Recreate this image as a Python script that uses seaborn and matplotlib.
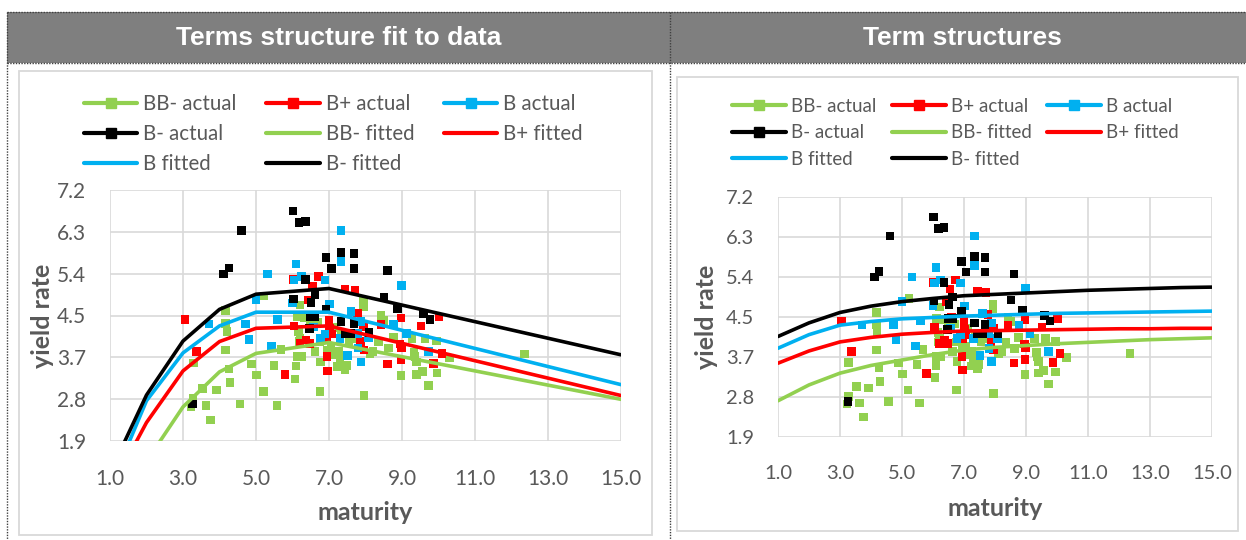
import numpy as np
import pandas as pd
import matplotlib
matplotlib.use("Agg")
import matplotlib.pyplot as plt
from matplotlib.patches import Rectangle
from matplotlib.lines import Line2D
import seaborn as sns

# ---------------- data ----------------
series_names = ["BB- actual", "B+ actual", "B actual", "B- actual"]
fit_names = ["BB- fitted", "B+ fitted", "B fitted", "B- fitted"]

bb_x = [3.22, 3.27, 3.28, 3.54, 3.63, 3.76, 3.92, 4.56, 4.17, 4.17, 4.20, 4.17, 4.26, 4.29,
        4.88, 5.02, 5.49, 5.20, 5.57, 5.22, 5.68, 6.07, 6.10, 6.12, 6.25, 6.21, 6.12, 6.16,
        6.18, 6.21, 6.62, 6.75, 6.77, 6.75, 7.26, 7.30, 7.44, 7.48, 7.23, 7.35, 7.55, 7.62,
        7.94, 7.94, 7.96, 8.42, 8.50, 8.35, 8.12, 8.21, 8.63, 8.76, 8.97, 9.27, 9.33, 9.40,
        9.36, 9.40, 9.56, 9.63, 9.72, 9.95, 9.96, 10.30, 12.35, 6.50, 6.70, 6.90, 7.05,
        7.12, 6.45, 6.95, 7.15, 6.32]
bb_y = [2.63, 2.80, 3.55, 3.01, 2.65, 2.34, 2.98, 2.68, 4.65, 4.38, 4.21, 3.82, 3.42, 3.13,
        3.53, 3.29, 3.50, 2.94, 2.65, 4.96, 3.83, 3.21, 3.48, 3.68, 3.68, 4.77, 4.52, 4.21,
        4.00, 4.07, 3.79, 2.94, 3.57, 4.00, 3.79, 3.61, 3.41, 3.50, 3.47, 4.17, 4.00, 4.07,
        4.84, 4.74, 2.86, 4.55, 4.45, 4.00, 3.74, 3.79, 3.86, 4.10, 3.28, 4.07, 3.77, 3.57,
        3.68, 3.31, 3.37, 4.07, 3.07, 4.01, 3.34, 3.65, 3.74, 4.35, 4.40, 4.10, 3.90,
        4.30, 3.95, 3.82, 3.72, 4.50]

bp_x = [3.05, 3.37, 5.79, 6.02, 6.72, 6.55, 6.42, 7.44, 7.71, 6.04, 6.37, 6.21, 6.48, 7.00,
        7.02, 6.94, 6.96, 7.78, 7.95, 7.87, 7.96, 8.42, 8.97, 9.52, 10.01, 8.95, 8.99, 8.61,
        8.97, 9.87, 10.09, 7.07, 6.95, 6.60]
bp_y = [4.46, 3.79, 3.30, 5.31, 5.37, 5.17, 4.88, 5.11, 5.09, 4.33, 4.03, 3.96, 3.96, 4.45,
        4.27, 3.68, 3.38, 4.60, 4.31, 4.00, 3.82, 4.36, 4.50, 4.33, 4.52, 3.95, 3.88, 3.53,
        3.61, 3.54, 3.75, 4.16, 4.07, 4.55]

b_x = [6.09, 5.32, 6.25, 6.04, 5.00, 6.00, 3.71, 4.72, 5.59, 4.81, 5.43, 7.33, 7.33, 6.89,
       8.99, 7.01, 7.60, 7.88, 8.77, 9.13, 6.77, 7.30, 7.80, 8.08, 7.80, 7.51, 7.88, 9.72,
       6.57, 6.89]
b_y = [5.64, 5.43, 5.37, 5.30, 4.89, 4.81, 4.37, 4.37, 4.46, 4.04, 3.91, 6.34, 5.69, 5.30,
       5.18, 4.79, 4.63, 4.42, 4.36, 4.17, 4.07, 4.07, 4.17, 4.08, 3.86, 3.70, 3.57, 3.79,
       4.31, 4.16]

bm_x = [6.01, 6.18, 6.36, 4.61, 4.26, 4.11, 6.36, 6.03, 6.51, 6.62, 6.48, 6.46, 3.26, 6.92,
        7.33, 7.68, 7.07, 7.68, 8.61, 8.51, 8.88, 9.59, 9.77, 6.92, 7.33, 7.68, 7.44, 7.59,
        8.10, 6.62]
bm_y = [6.76, 6.51, 6.53, 6.34, 5.55, 5.43, 5.31, 4.90, 4.82, 4.99, 4.52, 4.28, 2.68, 5.77,
        5.88, 5.86, 5.54, 5.54, 5.50, 4.93, 4.69, 4.58, 4.46, 4.68, 4.42, 4.38, 4.17, 4.17,
        4.19, 4.52]

# left panel: fitted term structure at tenor points
fitL_x = [1, 2, 3, 4, 5, 7, 15]
fitL_bb = [0.30, 1.47, 2.62, 3.36, 3.75, 3.98, 2.78]
fitL_bp = [0.85, 2.29, 3.38, 4.00, 4.28, 4.33, 2.86]
fitL_b = [0.92, 2.75, 3.76, 4.33, 4.62, 4.62, 3.09]
fitL_bm = [1.23, 2.87, 4.01, 4.68, 5.00, 5.12, 3.72]

# right panel: smooth term structures
fitR_x = [1, 2, 3, 4, 5, 6, 7, 8, 9, 10, 11, 12, 13, 14, 15]
fitR_bb = [2.70, 3.05, 3.31, 3.48, 3.60, 3.72, 3.82, 3.88, 3.92, 3.96, 3.99, 4.02, 4.05, 4.07, 4.09]
fitR_bp = [3.53, 3.80, 4.00, 4.10, 4.17, 4.21, 4.24, 4.25, 4.26, 4.27, 4.28, 4.29, 4.29, 4.30, 4.30]
fitR_b = [3.86, 4.16, 4.37, 4.45, 4.51, 4.54, 4.57, 4.59, 4.61, 4.63, 4.64, 4.65, 4.66, 4.67, 4.68]
fitR_bm = [4.12, 4.42, 4.65, 4.79, 4.89, 4.96, 5.02, 5.05, 5.08, 5.11, 5.14, 5.16, 5.18, 5.20, 5.21]

x_ticks = [1.0, 3.0, 5.0, 7.0, 9.0, 11.0, 13.0, 15.0]
x_ticklabels = ["1.0", "3.0", "5.0", "7.0", "9.0", "11.0", "13.0", "15.0"]
y_ticklabels = ["1.9", "2.8", "3.7", "4.5", "5.4", "6.3", "7.2"]
y_min, y_max = 1.9, 7.2

titles = ["Terms structure fit to data", "Term structures"]
colors = ["#92D050", "#FF0000", "#00B0F0", "#000000"]

# ---------------- tables ----------------
act = pd.concat([
    pd.DataFrame({"maturity": bb_x, "yield": bb_y, "series": series_names[0]}),
    pd.DataFrame({"maturity": bp_x, "yield": bp_y, "series": series_names[1]}),
    pd.DataFrame({"maturity": b_x, "yield": b_y, "series": series_names[2]}),
    pd.DataFrame({"maturity": bm_x, "yield": bm_y, "series": series_names[3]}),
], ignore_index=True)

def fit_table(xs, ys_list):
    return pd.concat([pd.DataFrame({"maturity": xs, "yield": ys, "series": n})
                      for ys, n in zip(ys_list, fit_names)], ignore_index=True)

fitL = fit_table(fitL_x, [fitL_bb, fitL_bp, fitL_b, fitL_bm])
fitR = fit_table(fitR_x, [fitR_bb, fitR_bp, fitR_b, fitR_bm])

# ---------------- figure ----------------
sns.set_theme(style="white")
plt.rcParams["font.family"] = ["Lato", "DejaVu Sans"]

W, H = 1246, 540
fig = plt.figure(figsize=(W / 100, H / 100), dpi=100)
fig.patch.set_facecolor("white")

def rect_px(x0, y0, x1, y1, **kw):
    fig.add_artist(Rectangle((x0 / W, 1 - y1 / H), (x1 - x0) / W, (y1 - y0) / H,
                             transform=fig.transFigure, **kw))

def line_px(xs, ys, **kw):
    fig.add_artist(Line2D([x / W for x in xs], [1 - y / H for y in ys],
                          transform=fig.transFigure, **kw))

# header bar
rect_px(7, 12, W, 63, facecolor="#7F7F7F", edgecolor="none", zorder=0)
dot = dict(color="#404040", lw=1, ls=(0, (1, 1)), zorder=1)
line_px([7, W], [12, 12], **dot)
line_px([7, W], [63, 63], **dot)
line_px([7, 7], [12, H], **dot)
line_px([670, 670], [12, H], **dot)
fig.text(339 / W, 1 - 38 / H, titles[0], color="white", fontsize=19, fontweight="bold",
         family="Liberation Sans", ha="center", va="center")
fig.text(962 / W, 1 - 38 / H, titles[1], color="white", fontsize=19, fontweight="bold",
         family="Liberation Sans", ha="center", va="center")

# chart boxes
rect_px(19, 71, 652, 535, facecolor="white", edgecolor="#D9D9D9", lw=1.3, zorder=0)
rect_px(677, 77, 1238, 531, facecolor="white", edgecolor="#D9D9D9", lw=1.3, zorder=0)

grey = "#595959"

def make_axes(box, fit, tick_fs, lab_fs, ylab_x, xlab_y):
    x0, y0, x1, y1 = box
    ax = fig.add_axes([x0 / W, 1 - y1 / H, (x1 - x0) / W, (y1 - y0) / H])
    ax.set_facecolor("none")
    sns.scatterplot(data=act, x="maturity", y="yield", hue="series",
                    hue_order=series_names, palette=colors, marker="s", s=38,
                    linewidth=0, legend=False, ax=ax, zorder=3)
    sns.lineplot(data=fit, x="maturity", y="yield", hue="series", hue_order=fit_names,
                 palette=colors, lw=2.6, legend=False, ax=ax, estimator=None,
                 sort=True, zorder=4)
    ax.set_xlim(1.0, 15.0)
    ax.set_ylim(y_min, y_max)
    ax.set_xticks(x_ticks)
    ax.set_xticklabels(x_ticklabels)
    ax.set_yticks(np.linspace(y_min, y_max, len(y_ticklabels)))
    ax.set_yticklabels(y_ticklabels)
    ax.grid(True, color="#D9D9D9", lw=1.2)
    ax.set_axisbelow(True)
    for s in ax.spines.values():
        s.set_visible(False)
    ax.tick_params(axis="both", length=0, labelsize=tick_fs, labelcolor=grey)
    ax.tick_params(axis="x", pad=20)
    ax.tick_params(axis="y", pad=17)
    ax.set_xlabel("")
    ax.set_ylabel("")
    fig.text(ylab_x / W, 1 - (y0 + y1) / 2 / H, "yield rate", rotation=90, color=grey,
             fontsize=lab_fs, fontweight="bold", ha="center", va="center")
    fig.text((x0 + x1) / 2 / W, 1 - xlab_y / H, "maturity", color=grey,
             fontsize=lab_fs, fontweight="bold", ha="center", va="center")
    return ax

axL = make_axes((110, 190, 621, 441), fitL, 15, 18, 42, 513)
axR = make_axes((778, 197, 1212, 437), fitR, 14.5, 18, 706, 508)

# legends (matplotlib fills column by column; order so rows read like the reference)
def handles():
    hs = {}
    for c, n in zip(colors, series_names):
        hs[n] = Line2D([], [], color=c, lw=3, marker="s", markersize=6.5, label=n)
    for c, n in zip(colors, fit_names):
        hs[n] = Line2D([], [], color=c, lw=3, label=n)
    order = ["BB- actual", "B- actual", "B fitted",
             "B+ actual", "BB- fitted", "B- fitted",
             "B actual", "B+ fitted"]
    return [hs[k] for k in order]

def add_legend(anchor, fs, rowsp, hl, colsp):
    leg = fig.legend(handles=handles(), loc="upper left",
                     bbox_to_anchor=(anchor[0] / W, 1 - anchor[1] / H),
                     ncol=3, frameon=False, fontsize=fs, handlelength=hl,
                     handletextpad=0.28, columnspacing=colsp, labelspacing=rowsp,
                     borderpad=0, borderaxespad=0)
    for t in leg.get_texts():
        t.set_color(grey)
    return leg

add_legend((84, 94), 14.8, 0.48, 2.6, 1.45)
add_legend((732, 98), 13.5, 0.5, 2.88, 0.8)

fig.savefig("out.png", dpi=100, facecolor="white")
